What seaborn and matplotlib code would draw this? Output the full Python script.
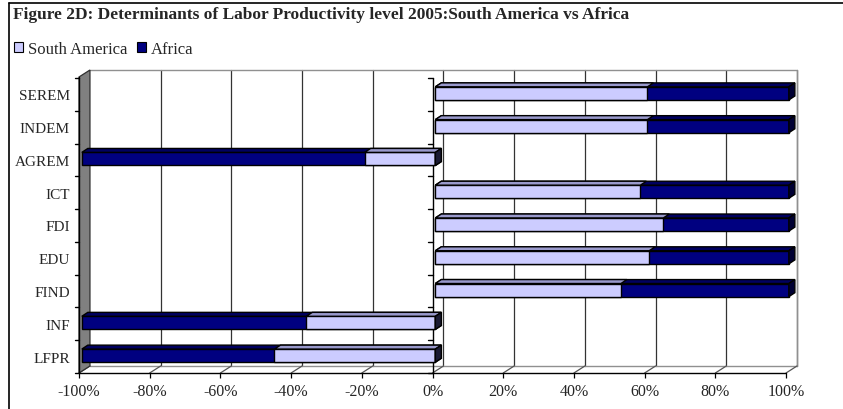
import numpy as np
import pandas as pd
import matplotlib
matplotlib.use("Agg")
import matplotlib.pyplot as plt
import seaborn as sns
from matplotlib.patches import Polygon, Patch
from matplotlib.lines import Line2D

# ---------------- data ----------------
categories = ["SEREM", "INDEM", "AGREM", "ICT", "FDI", "EDU", "FIND", "INF", "LFPR"]
south_america = [60, 60, -20, 58, 64.5, 60.5, 52.5, -36.5, -45.5]
africa = [40, 40, -80, 42, 35.5, 39.5, 47.5, -63.5, -54.5]
x_ticks = [-100, -80, -60, -40, -20, 0, 20, 40, 60, 80, 100]
x_tick_labels = ["-100%", "-80%", "-60%", "-40%", "-20%", "0%", "20%", "40%", "60%", "80%", "100%"]
series_names = ["South America", "Africa"]
title = "Figure 2D: Determinants of Labor Productivity level 2005:South America vs Africa"

LIGHT, DARK = "#CCCCFF", "#000080"
LIGHT_TOP, DARK_TOP = "#9999CC", "#000060"
LIGHT_SIDE, DARK_SIDE = "#1a1a33", "#000033"

sns.set_style("white")
plt.rcParams["font.family"] = ["Liberation Serif", "DejaVu Serif"]

W, H = 843, 410
fig = plt.figure(figsize=(W / 100, H / 100), dpi=100)
ax = fig.add_axes([79 / W, 1 - 374 / H, (797 - 79) / W, (374 - 71) / H])

df = pd.DataFrame({"cat": categories, "sa": south_america, "af": africa})
df["total"] = df["sa"] + df["af"]

BAR_H = 0.4
sns.barplot(data=df, x="total", y="cat", order=categories, orient="h", color=DARK,
            saturation=1, width=BAR_H, edgecolor="black", linewidth=1.0,
            errorbar=None, ax=ax, zorder=2)
n_dark = len(ax.patches)
sns.barplot(data=df, x="sa", y="cat", order=categories, orient="h", color=LIGHT,
            saturation=1, width=BAR_H, edgecolor="black", linewidth=1.0,
            errorbar=None, ax=ax, zorder=2)

# 3D geometry (data units)
WDX, WDY = 3.1, 0.214        # wall depth
DX0, DY0 = 0.8, -0.03        # bar front-face offset
DXB, DYB = 1.7, 0.12         # bar depth
XMIN, XMAX = -100, 100
YTOP, YBOT = -0.743, 8.5

ax.set_xlim(XMIN, XMAX + WDX)
ax.set_ylim(YBOT, YTOP)

# shift bar fronts and add top / side faces
rects = []
for p in ax.patches:
    x0, y0, w, h = p.get_x(), p.get_y(), p.get_width(), p.get_height()
    if w < 0:
        x0, w = x0 + w, -w
    p.set_x(x0 + DX0)
    p.set_width(w)
    p.set_y(y0 + DY0)
    rects.append((x0 + DX0, y0 + DY0, w, h))

dark_right = {}
for i, (x, y, w, h) in enumerate(rects):
    is_dark = i < n_dark
    row = i % n_dark
    L, R, yt, yb = x, x + w, y, y + h
    top = Polygon([(L, yt), (R, yt), (R + DXB, yt - DYB), (L + DXB, yt - DYB)],
                  closed=True, fc=DARK_TOP if is_dark else LIGHT_TOP,
                  ec="black", lw=1.0, zorder=2.1 + (0.2 if not is_dark else 0))
    ax.add_patch(top)
    if is_dark:
        dark_right[row] = R
    draw_side = is_dark or R >= dark_right[row] - 1e-6
    if draw_side:
        side = Polygon([(R, yt), (R + DXB, yt - DYB), (R + DXB, yb - DYB), (R, yb)],
                       closed=True, fc=DARK_SIDE if is_dark else LIGHT_SIDE,
                       ec="black", lw=1.0, zorder=2.15 + (0.2 if not is_dark else 0))
        ax.add_patch(side)

# walls, floor and gridlines
GRID = "#333333"
WALLE = "#909090"
for v in x_ticks[1:]:
    ax.plot([v + WDX, v + WDX], [YTOP, YBOT - WDY], color=GRID, lw=0.9, zorder=0.5, clip_on=False)
ax.plot([XMIN + WDX, XMAX + WDX], [YTOP, YTOP], color=WALLE, lw=1.0, zorder=0.6, clip_on=False)
ax.plot([XMAX + WDX, XMAX + WDX], [YTOP, YBOT - WDY], color=WALLE, lw=1.0, zorder=0.6, clip_on=False)
ax.plot([XMIN + WDX, XMAX + WDX], [YBOT - WDY, YBOT - WDY], color=WALLE, lw=1.0, zorder=0.6, clip_on=False)
for v in x_ticks:
    ax.plot([v, v + WDX], [YBOT, YBOT - WDY], color="#555555", lw=0.9, zorder=0.6, clip_on=False)
wall = Polygon([(XMIN, YBOT), (XMIN, -0.53), (XMIN + WDX, YTOP), (XMIN + WDX, YBOT - WDY)],
               closed=True, fc="#808080", ec="#303030", lw=0.9, zorder=0.7, clip_on=False)
ax.add_patch(wall)
ax.plot([XMIN, XMIN], [-0.53, YBOT], color="black", lw=1.0, zorder=0.8, clip_on=False)
# front category axis
ax.plot([XMIN, XMAX], [YBOT, YBOT], color="black", lw=1.0, zorder=0.9, clip_on=False)
ax.plot([0, 0], [-0.5, YBOT], color="black", lw=1.0, zorder=0.9, clip_on=False)
for k in range(len(categories) + 1):
    yb = -0.5 + k
    ax.plot([-1.2, 0], [yb, yb], color="black", lw=1.0, zorder=0.9, clip_on=False)
    ax.plot([XMIN - 1.2, XMIN], [yb, yb], color="black", lw=1.0, zorder=0.9, clip_on=False)

for s in ax.spines.values():
    s.set_visible(False)
ax.set_xticks(x_ticks, x_tick_labels)
ax.tick_params(axis="x", length=3.6, width=0.9, color="black", pad=3.5, labelsize=11.5, bottom=True)
ax.tick_params(axis="y", length=0, pad=6.5, labelsize=11)
ax.set_xlabel("")
ax.set_ylabel("")
ax.set_facecolor("none")

# title, legend, frame
fig.text(13 / W, 1 - 15 / H, title, fontsize=12.5, fontweight="bold", va="center", ha="left")
handles = [Patch(fc=LIGHT, ec="black", lw=0.8, label=series_names[0]),
           Patch(fc=DARK, ec="black", lw=0.8, label=series_names[1])]
fig.legend(handles=handles, loc="center left", bbox_to_anchor=(14 / W, 1 - 50 / H), ncol=2,
           frameon=False, handlelength=0.55, handleheight=0.55, handletextpad=0.3,
           columnspacing=0.55, fontsize=12, borderaxespad=0, borderpad=0)
fig.add_artist(Line2D([9 / W, 1], [1 - 4 / H, 1 - 4 / H], color="black", lw=1.2))
fig.add_artist(Line2D([9 / W, 9 / W], [0, 1 - 4 / H], color="black", lw=1.2))

fig.savefig("out.png", dpi=100)
